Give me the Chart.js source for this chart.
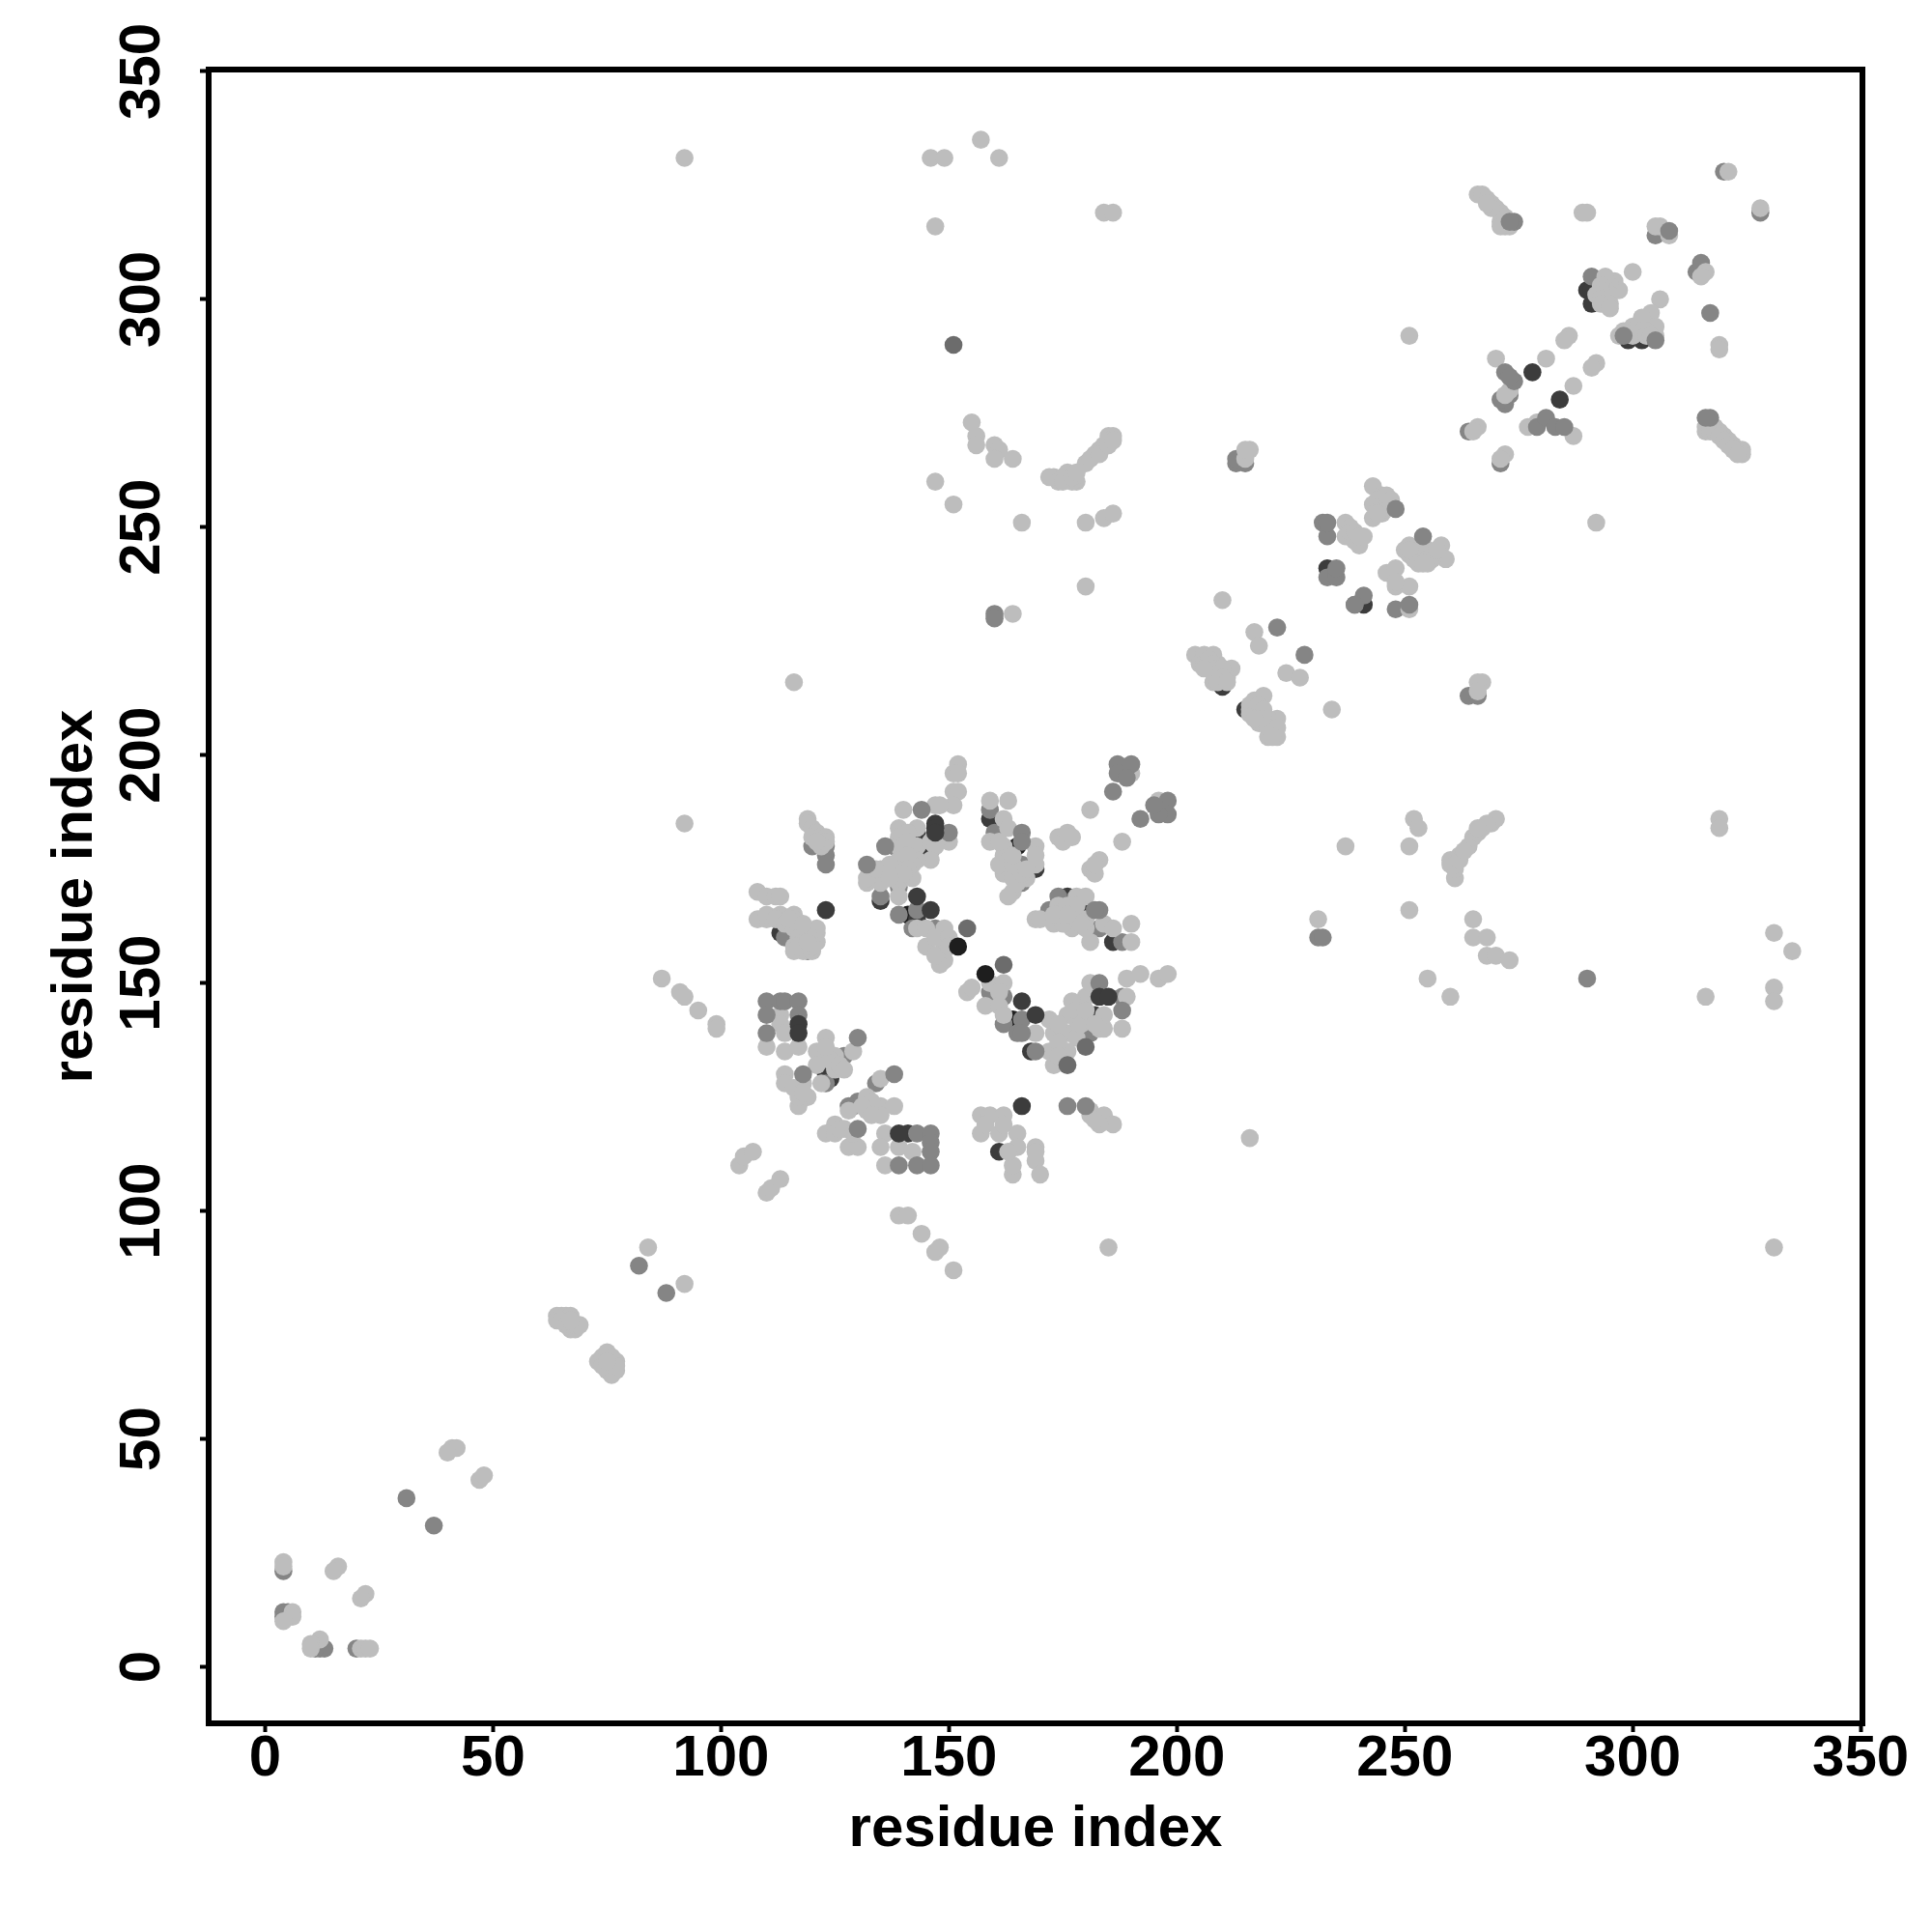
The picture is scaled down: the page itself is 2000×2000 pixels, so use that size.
<!DOCTYPE html>
<html lang="en">
  <head>
    <meta charset="UTF-8" />
    <title>Residue contact map</title>
    <script src="https://cdn.jsdelivr.net/npm/chart.js@4/dist/chart.umd.min.js"></script>
    <style>
      body {
        margin: 0;
        background-color: #fff;
      }
    </style>
  </head>
  <body>
    <canvas id="contactChart" width="2000" height="2000"></canvas>

    <script>
      const tickValues = [0, 50, 100, 150, 200, 250, 300, 350];
      const axisLabel = "residue index";

      // contacts as [residue, residue], one list per grey level.
      // "under" lists are drawn below the light points, "over" lists on top of them
      const blackUnder = [[141,165],[164,142],[165,180],[165,175],[179,166]];
      const darkUnder = [
        [135,168],[143,183],[143,164],[146,179],[148,160],[159,186],[169,175],
        [113,161],[176,169],[175,166],[180,166],[186,159],[160,149],[168,135],[182,143],
        [123,130],[124,129],[129,123],[161,113],[141,117],
        [210,215],[215,210],[290,302],[291,302],[291,299],[299,291],[302,291],[241,233],[233,241]
      ];
      const midUnder = [
        [4,21],[4,12],[4,11],[5,12],[12,4],[13,4],[11,4],[20,4],
        [119,157],[114,160],[120,180],[123,180],[123,178],[123,176],
        [138,180],[138,176],[139,171],[135,169],[142,162],[147,162],[148,161],
        [159,188],[160,183],[166,176],[166,172],[172,166],[174,169],[183,162],[188,159],
        [159,148],[162,147],[162,141],[181,139],[188,147],
        [127,134],[123,128],[134,128],[130,124],[128,123],
        [320,328],[328,319],[305,314],[314,306],[315,308],[264,271],[271,264],
        [264,213],[266,213],[213,264],[213,265],[215,264],
        [233,248],[232,251],[291,305],[233,239],[235,239],[239,233],[248,232],
        [272,277],[273,279],[271,278],[160,231],[160,230],[231,160],[232,160]
      ];
      const light = [
        [4,23],[4,22],[16,22],[15,21],[22,16],[21,15],[6,12],[6,11],[4,10],[12,6],[10,5],[10,4],[21,4],[22,4],[23,4],
        [41,48],[42,48],[40,47],[47,41],[48,42],[64,77],[65,77],[66,77],[67,77],[64,76],[65,76],[66,75],[67,74],[68,74],[68,75],[69,75],[67,76],
        [73,67],[74,68],[75,69],[76,68],[77,67],[77,65],[76,64],[75,65],[74,66],[77,66],[75,67],
        [84,92],[92,84],[87,151],[91,148],[92,147],[95,144],[99,141],[99,140],[92,185],[92,331],
        [104,110],[105,112],[107,113],[110,104],[111,105],[113,107],[139,99],[141,99],[144,95],[147,91],[148,92],[151,87],[185,92],[116,216],[216,116],[331,92],
        [119,186],[119,185],[120,184],[121,183],[120,182],[122,182],[123,182],[123,181],[122,180],[121,181],
        [108,170],[110,169],[112,169],[113,169],[108,164],[110,164],[110,165],[113,165],[112,164],[114,163],[116,165],[116,164],[116,162],[117,160],[116,158],[116,157],[118,157],[120,157],[120,158],[121,159],[121,161],[121,162],[119,161],[118,159],[115,164],[118,163],[117,158],[119,159],
        [152,198],[151,196],[152,196],[151,192],[152,192],[151,189],[147,189],[148,189],[140,188],[143,184],[139,184],[139,182],[141,183],[139,180],[140,180],[143,180],[141,181],[146,181],[150,181],[148,182],[147,180],[146,177],[143,177],[142,176],[139,177],[141,178],[135,175],[136,174],[135,172],[132,172],[132,173],[137,176],[134,175],[139,172],[142,173],[141,175],[140,174],[137,173],[139,169],[143,162],[145,162],[149,162],[145,158],[149,158],[147,160],[150,160],[149,155],[148,154],[147,156],[150,158],
        [159,190],[163,190],[162,186],[163,184],[159,181],[162,178],[162,180],[161,181],[162,174],[161,176],[169,180],[169,178],[169,176],[167,173],[164,173],[164,170],[163,169],[165,172],[166,174],[163,177],[164,176],[164,178],[167,175],
        [181,188],[174,182],[175,181],[176,183],[177,182],[183,177],[181,175],[182,174],[182,176],[188,181],[196,190],[190,196],
        [169,164],[170,164],[174,167],[173,163],[178,169],[180,169],[177,166],[177,162],[180,162],[181,159],[184,163],[186,162],[190,163],[190,159],[175,163],[174,165],[178,164],[180,164],[179,163],[176,167],[178,167],[173,165],[176,165],
        [154,148],[155,149],[159,150],[162,150],[161,148],[158,145],[161,145],[162,143],[169,139],[172,142],[173,139],[172,135],[176,143],[173,132],[176,135],[176,139],[183,140],[184,140],[188,140],[184,143],[180,147],[177,146],[181,150],[189,147],[189,151],[192,152],[196,151],[198,152],[174,141],[174,137],[178,142],[178,144],[174,134],[178,138],[179,141],[180,144],[182,141],
        [113,143],[113,141],[114,139],[110,136],[114,135],[117,136],[123,138],[129,135],[123,135],[121,135],[121,132],[125,134],[125,131],[122,128],[124,133],[123,136],[126,132],[127,131],[114,130],[114,128],[118,128],[119,125],[117,123],[117,125],[116,127],[118,126],
        [135,129],[132,125],[128,122],[132,122],[135,123],[138,123],[135,121],[133,124],[131,123],[133,121],[125,119],[123,117],[125,117],[126,118],[127,118],[128,114],[130,114],[129,117],[136,117],[135,114],[139,114],[142,113],[136,110],
        [157,121],[159,121],[162,121],[157,117],[158,119],[161,117],[165,117],[165,114],[169,114],[169,111],[170,108],[164,108],[164,110],[162,119],[163,113],[169,113],
        [181,122],[181,121],[184,121],[186,119],[183,119],[182,120],
        [266,323],[267,323],[268,322],[269,321],[270,320],[271,319],[272,318],[271,317],[272,316],[273,316],[269,320],[268,321],[271,316],
        [289,319],[290,319],[321,328],[328,320],[306,316],[305,316],[308,314],[316,306],[315,305],[300,306],[319,290],[319,289],[286,292],[285,291],[251,292],
        [294,304],[296,304],[294,300],[297,302],[295,303],[295,301],[294,305],[293,303],[293,302],[292,301],[293,300],[293,299],[295,299],[295,298],[306,300],[304,297],[300,294],[305,294],[302,296],[303,293],[305,292],[299,293],[301,293],[302,293],[298,293],[300,292],[303,292],[304,292],[297,292],
        [270,287],[273,280],[272,279],[281,287],[287,281],[292,286],[291,285],[266,272],[265,271],[287,270],[279,273],[277,272],[272,266],[271,265],
        [316,272],[316,271],[317,273],[318,272],[319,271],[320,270],[321,269],[322,268],[323,267],[324,267],[324,266],[317,272],[317,271],[318,271],[319,270],[320,269],[321,268],[322,267],[323,266],
        [216,267],[215,265],[215,267],[292,251],
        [243,259],[245,257],[243,255],[245,253],[243,252],[246,255],[244,254],[244,256],[245,255],[246,254],[244,253],[246,257],[247,256],[237,251],[241,248],[237,248],[240,246],[239,247],[238,250],[238,249],[239,249],[240,248],
        [251,246],[255,245],[258,246],[259,243],[251,244],[255,242],[252,243],[256,243],[253,245],[252,245],[253,244],[254,244],[254,246],[255,243],[256,244],[257,245],[250,245],[251,245],[253,242],[254,242],[246,240],[248,241],[248,237],[251,237],[248,238],[251,232],
        [210,234],[217,227],[218,224],[224,218],[227,217],[234,210],
        [204,222],[205,221],[206,222],[208,222],[209,220],[207,219],[205,220],[210,218],[212,219],[211,217],[209,217],[208,216],[206,220],[207,221],[208,220],[209,219],[210,219],[208,218],[206,219],[210,217],[209,216],[211,216],
        [219,213],[218,209],[221,206],[222,208],[220,204],[222,204],[218,207],[220,208],[216,211],[216,210],[216,209],[217,209],[217,212],[218,211],[219,210],[219,208],[220,206],[221,205],[222,206],[221,204],[217,208],
        [267,216],[266,216],[266,214],
        [146,331],[149,331],[157,335],[161,331],[147,316],[184,319],[186,319],
        [155,273],[156,270],[156,268],[160,268],[161,267],[160,265],[164,265],[147,260],[151,255],[166,251],
        [173,261],[175,261],[176,261],[178,260],[176,262],[180,264],[182,266],[184,268],[185,270],[186,270],[172,261],[174,260],[175,260],[177,260],[177,261],[178,262],[181,265],[183,267],[183,266],[185,268],[185,269],[186,269],[180,251],[184,252],[186,253],[180,237],[164,231],
        [231,164],[237,180],[251,180],[252,186],[253,184],[251,166],[255,151],[260,147],[261,173],[260,176],[262,178],[264,180],[265,182],[267,184],[269,185],[270,186],[260,177],[261,175],[261,176],[262,177],[263,179],[266,183],[268,185],[266,184],[265,164],[265,160],[268,160],[268,156],[270,156],[273,155],
        [316,147],[319,186],[319,184],[331,161],[335,157],[331,149],[331,146]
      ];
      const midOver = [
        [31,37],[37,31],[82,88],[88,82],[136,180],[132,176],[144,188],[150,183],[139,165],[143,166],
        [186,192],[187,198],[187,196],[190,198],[189,195],[198,190],[198,187],[196,187],[195,189],[192,186],
        [166,183],[166,181],[183,166],[182,166],[183,150],[188,144],[166,142],[165,139],[166,139],[169,135],
        [110,146],[113,146],[114,146],[117,146],[110,143],[117,143],[110,139],[130,138],[118,130],[138,130],
        [130,118],[143,117],[146,117],[146,115],[146,113],[139,110],[143,110],[146,110],
        [176,123],[180,123],[317,297],[308,315],[274,317],[273,317],[248,254],[233,251],[254,248],
        [272,284],[274,282],[273,283],[279,272],[281,274],[283,272],[285,272],[235,241],[241,235],[239,233],
        [305,291],[298,292],[251,233],[222,228],[228,222],[317,274],[316,274],[290,151]
      ];
      const midDarkOver = [[162,154],[154,162],[176,132],[180,136],[151,290]];
      const darkOver = [
        [123,166],[143,169],[146,166],[147,185],[147,184],[147,183],[166,146],[169,143],[183,147],[185,147],[117,141],[117,139],[166,123],[139,117],[278,284],[284,278]
      ];
      const blackOver = [[152,158],[158,152]];

      const frameBox = {
        id: "frameBox",
        afterDatasetsDraw(chart) {
          const { ctx, chartArea: a } = chart;
          ctx.save();
          ctx.lineWidth = 6;
          ctx.strokeStyle = "#000";
          ctx.strokeRect(a.left, a.top, a.right - a.left, a.bottom - a.top);
          ctx.restore();
        },
      };

      function layer(points, color) {
        return {
          data: points.map((p) => ({ x: p[0], y: p[1] })),
          backgroundColor: color,
          borderWidth: 0,
          pointRadius: 9.3,
        };
      }

      function axis(extra, titlePadding) {
        return Object.assign(
          {
            type: "linear",
            min: -12.4,
            max: 350.4,
            afterBuildTicks: (scale) => {
              scale.ticks = tickValues.map((v) => ({ value: v }));
            },
            border: { display: false },
            grid: {
              drawOnChartArea: false,
              drawTicks: true,
              tickLength: 9,
              tickWidth: 4,
              tickColor: "#000",
            },
            title: {
              display: true,
              text: axisLabel,
              color: "#000",
              padding: titlePadding,
              font: { family: "Liberation Sans", size: 60, weight: "bold" },
            },
          },
          extra
        );
      }

      Chart.defaults.animation = false;

      new Chart(document.getElementById("contactChart"), {
        type: "scatter",
        data: {
          // chart.js paints the first dataset last, so topmost layer goes first
          datasets: [
            layer(blackOver, "#1e1e1e"),
            layer(darkOver, "#3c3c3c"),
            layer(midDarkOver, "#6c6c6c"),
            layer(midOver, "#858585"),
            layer(light, "#bdbdbd"),
            layer(midUnder, "#858585"),
            layer(darkUnder, "#3c3c3c"),
            layer(blackUnder, "#1e1e1e"),
          ],
        },
        options: {
          responsive: false,
          layout: { padding: { top: 72, right: 72, left: 0, bottom: 0 } },
          plugins: { legend: { display: false }, tooltip: { enabled: false } },
          scales: {
            x: axis(
              {
                ticks: {
                  color: "#000",
                  padding: -8,
                  maxRotation: 0,
                  font: { family: "Liberation Sans", size: 60, weight: "bold" },
                },
                afterFit: (scale) => {
                  scale.height = 216;
                },
              },
              { top: 0, bottom: 70 }
            ),
            y: axis(
              {
                ticks: {
                  color: "#000",
                  padding: 8,
                  minRotation: 90,
                  maxRotation: 90,
                  crossAlign: "center",
                  font: { family: "Liberation Sans", size: 60, weight: "bold" },
                },
                afterFit: (scale) => {
                  scale.width = 216;
                },
              },
              { top: 42, bottom: 0 }
            ),
          },
        },
        plugins: [frameBox],
      });
    </script>
  </body>
</html>
